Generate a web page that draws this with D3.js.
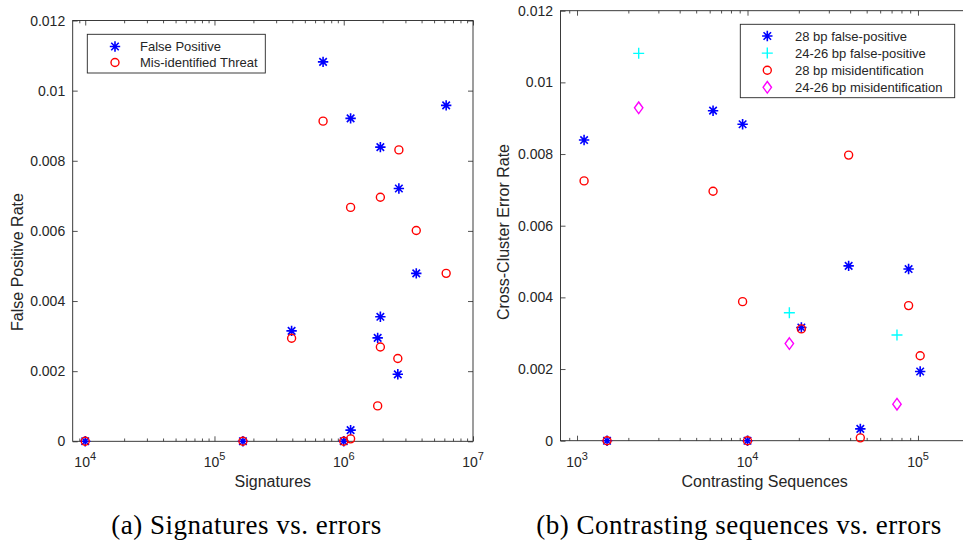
<!DOCTYPE html>
<html><head><meta charset="utf-8">
<script src="https://cdn.jsdelivr.net/npm/d3@7"></script>
<style>body{margin:0;background:#fff}svg{display:block}</style>
</head><body><svg id="c" width="963" height="542"></svg>
<script>
// ---------- data ----------
const leftFalsePositive = [[1e4,0],[1.66e5,0],[3.95e5,0.00315],[6.92e5,0.01082],[1e6,0],[1.13e6,0.00032],[1.13e6,0.00921],[1.83e6,0.00295],[1.92e6,0.00355],[1.92e6,0.00839],[2.62e6,0.00191],[2.67e6,0.00721],[3.64e6,0.00479],[6.2e6,0.00958]];
const leftMisidentified = [[1e4,0],[1.66e5,0],[3.95e5,0.00294],[6.92e5,0.00913],[1e6,0],[1.13e6,0.00007],[1.13e6,0.00667],[1.83e6,0.00101],[1.92e6,0.00269],[1.92e6,0.00696],[2.62e6,0.00236],[2.67e6,0.00831],[3.64e6,0.00601],[6.2e6,0.00479]];
const right28FalsePositive = [[1.1e3,0.00839],[1.5e3,0],[6.28e3,0.00921],[9.36e3,0.00883],[1e4,0],[2.07e4,0.00316],[3.92e4,0.00488],[4.59e4,0.00033],[8.81e4,0.00479],[1.03e5,0.00193]];
const right2426FalsePositive = [[2.3e3,0.01081],[1.76e4,0.00357],[7.53e4,0.00295]];
const right28Misidentified = [[1.1e3,0.00725],[1.5e3,0],[6.28e3,0.00696],[9.36e3,0.00388],[1e4,0],[2.07e4,0.00312],[3.92e4,0.00797],[4.59e4,0.00008],[8.81e4,0.00377],[1.03e5,0.00237]];
const right2426Misidentified = [[2.3e3,0.00929],[1.76e4,0.00271],[7.53e4,0.00102]];
const yTicks = [0,0.002,0.004,0.006,0.008,0.01,0.012];
const yTickLabels = ["0","0.002","0.004","0.006","0.008","0.01","0.012"];
const leftXTicks = [1e4,1e5,1e6,1e7];
const leftXExp = ["4","5","6","7"];
const rightXTicks = [1e3,1e4,1e5];
const rightXExp = ["3","4","5"];
const leftLegend = ["False Positive","Mis-identified Threat"];
const rightLegend = ["28 bp false-positive","24-26 bp false-positive","28 bp misidentification","24-26 bp misidentification"];

// ---------- drawing ----------
const svg = d3.select("#c");
const FONT = "'Liberation Sans', Arial, Helvetica, sans-serif";
const AX = "#262626";

const markers = {
  star: (g, c) => { const r=5.2, d=r*0.72;
    g.append("path").attr("d",`M${-r},0H${r}M0,${-r}V${r}M${-d},${-d}L${d},${d}M${-d},${d}L${d},${-d}`)
      .attr("stroke",c).attr("stroke-width",1.6).attr("fill","none"); },
  circle: (g, c) => g.append("circle").attr("r",4).attr("fill","none").attr("stroke",c).attr("stroke-width",1.4),
  plus: (g, c) => { const r=5.5;
    g.append("path").attr("d",`M${-r},0H${r}M0,${-r}V${r}`).attr("stroke",c).attr("stroke-width",1.4).attr("fill","none"); },
  diamond: (g, c) => g.append("path").attr("d","M0,-5.8L4.2,0L0,5.8L-4.2,0Z").attr("fill","none").attr("stroke",c).attr("stroke-width",1.4)
};

function minorTicks(lo, hi) {
  const out = [];
  for (let e = Math.floor(Math.log10(lo)); e <= Math.ceil(Math.log10(hi)); e++)
    for (let m = 2; m <= 9; m++) { const v = m*Math.pow(10,e); if (v>lo*1.001 && v<hi*0.999) out.push(v); }
  return out;
}

function panel(cfg) {
  const {x0,x1,y0,y1,dom,majors,exps,series,ylabel,xlabel,ylabelPos,legend} = cfg;
  const x = d3.scaleLog().domain(dom).range([x0,x1]);
  const y = d3.scaleLinear().domain([0,0.012]).range([y1,y0]);
  const g = svg.append("g");
  const minors = minorTicks(dom[0], dom[1]);
  const style = sel => { sel.select(".domain").remove(); sel.selectAll(".tick line").attr("stroke",AX).attr("stroke-width",0.8); sel.selectAll("text").remove(); };
  g.append("g").attr("transform",`translate(0,${y1})`).call(d3.axisBottom(x).tickValues(majors).tickSize(-5).tickFormat("")).call(style);
  g.append("g").attr("transform",`translate(0,${y1})`).call(d3.axisBottom(x).tickValues(minors).tickSize(-2.8).tickFormat("")).call(style);
  g.append("g").attr("transform",`translate(0,${y0})`).call(d3.axisTop(x).tickValues(majors).tickSize(-5).tickFormat("")).call(style);
  g.append("g").attr("transform",`translate(0,${y0})`).call(d3.axisTop(x).tickValues(minors).tickSize(-2.8).tickFormat("")).call(style);
  g.append("g").attr("transform",`translate(${x0},0)`).call(d3.axisLeft(y).tickValues(yTicks).tickSize(-5).tickFormat("")).call(style);
  g.append("g").attr("transform",`translate(${x1},0)`).call(d3.axisRight(y).tickValues(yTicks).tickSize(-5).tickFormat("")).call(style);
  g.append("rect").attr("x",x0).attr("y",y0).attr("width",x1-x0).attr("height",y1-y0)
    .attr("fill","none").attr("stroke",AX).attr("stroke-width",0.9);
  g.selectAll(".yl").data(yTicks).enter().append("text")
    .attr("x",x0-7.5).attr("y",d=>y(d)).attr("dy","0.36em").attr("text-anchor","end")
    .attr("font-family",FONT).attr("font-size",14).attr("fill",AX).text((d,i)=>yTickLabels[i]);
  majors.forEach((v,i) => {
    const t = g.append("text").attr("x",x(v)).attr("y",y1+26).attr("text-anchor","middle")
      .attr("font-family",FONT).attr("font-size",14).attr("fill",AX);
    t.append("tspan").text("10");
    t.append("tspan").attr("dy",-7).attr("font-size",11).text(exps[i]);
  });
  g.append("text").attr("x",xlabel.cx).attr("y",y1+46).attr("text-anchor","middle")
    .attr("font-family",FONT).attr("font-size",16).attr("fill",AX).text(xlabel.text);
  g.append("text").attr("transform",`translate(${ylabelPos[0]},${ylabelPos[1]}) rotate(-90)`).attr("text-anchor","middle")
    .attr("font-family",FONT).attr("font-size",16).attr("fill",AX).text(ylabel);
  series.forEach(s => {
    const sg = g.append("g");
    s.data.forEach(d => markers[s.marker](sg.append("g").attr("transform",`translate(${x(d[0])},${y(d[1])})`), s.color));
  });
  const L = legend;
  g.append("rect").attr("x",L.x).attr("y",L.y).attr("width",L.w).attr("height",L.h)
    .attr("fill","#fff").attr("stroke",AX).attr("stroke-width",0.9);
  series.forEach((s,i) => {
    const cy = L.firstRow + i*L.rowH;
    markers[s.marker](g.append("g").attr("transform",`translate(${L.mx},${cy})`), s.color);
    g.append("text").attr("x",L.tx).attr("y",cy).attr("dy","0.36em").attr("font-family",FONT)
      .attr("font-size",13).attr("fill",AX).text(L.labels[i]);
  });
}

panel({
  x0:72.7, x1:473, y0:20.5, y1:441.3, dom:[8000,1e7], majors:leftXTicks, exps:leftXExp,
  series:[{data:leftFalsePositive,marker:"star",color:"#0000ff"},{data:leftMisidentified,marker:"circle",color:"#ff0000"}],
  ylabel:"False Positive Rate", ylabelPos:[23,262], xlabel:{text:"Signatures",cx:272.8},
  legend:{x:87.3,y:34.3,w:178,h:38.7,mx:115,tx:140,firstRow:46.5,rowH:16,labels:leftLegend}
});
panel({
  x0:560.5, x1:969.3, y0:10.7, y1:440.7, dom:[800,2e5], majors:rightXTicks, exps:rightXExp,
  series:[{data:right28FalsePositive,marker:"star",color:"#0000ff"},{data:right2426FalsePositive,marker:"plus",color:"#00ffff"},
          {data:right28Misidentified,marker:"circle",color:"#ff0000"},{data:right2426Misidentified,marker:"diamond",color:"#ff00ff"}],
  ylabel:"Cross-Cluster Error Rate", ylabelPos:[509,232], xlabel:{text:"Contrasting Sequences",cx:764.7},
  legend:{x:740.3,y:24.3,w:214.4,h:73.4,mx:767.3,tx:795,firstRow:36,rowH:17.1,labels:rightLegend}
});

const CAP = "'Liberation Serif', 'DejaVu Serif', serif";
svg.append("text").attr("x",246.5).attr("y",534).attr("text-anchor","middle").attr("font-family",CAP)
  .attr("font-size",27).attr("letter-spacing",0.5).attr("fill","#000").text("(a) Signatures vs. errors");
svg.append("text").attr("x",739).attr("y",534).attr("text-anchor","middle").attr("font-family",CAP)
  .attr("font-size",27).attr("letter-spacing",0.5).attr("fill","#000").text("(b) Contrasting sequences vs. errors");
</script></body></html>
